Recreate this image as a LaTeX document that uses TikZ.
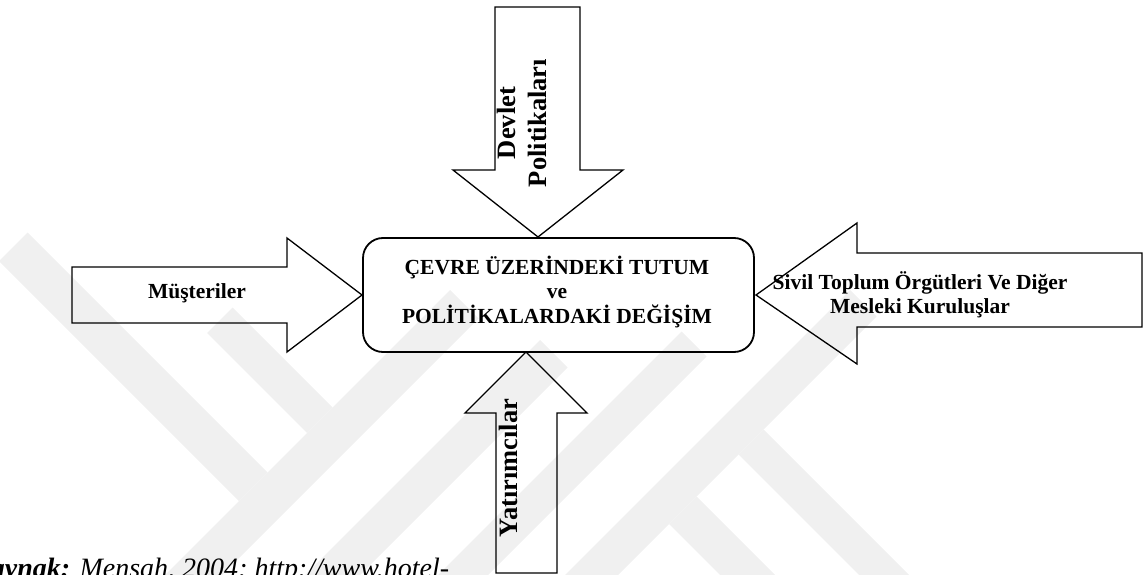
\documentclass[tikz,border=0pt]{standalone}
\usepackage{fontspec}
\setmainfont{Liberation Serif}

\tikzset{
  blockarrow/.style={draw=black, line width=1.3pt, line join=miter},
  centrebox/.style={draw=black, line width=1.8pt, rounded corners=20pt},
  label/.style={inner sep=0pt, align=center, text=black,
    font=\fontsize{21.5}{24.5}\selectfont\bfseries},
  sidelabel/.style={inner sep=0pt, align=center, text=black, rotate=90,
    font=\fontsize{26.5}{31}\selectfont\bfseries},
  band/.style={fill=wmgray, draw=none},
}
\definecolor{wmgray}{HTML}{F0F0F0}

\begin{document}
\begin{tikzpicture}[x=1pt, y=-1pt]
\useasboundingbox (0,0) rectangle (1144,575);

% faint background logo made of diagonal bands
\begin{scope}
  \clip (0,0) rectangle (1144,575);
  \fill[band] (450,290) -- (478.5,318.5) -- (98.5,698.5) -- (70,670) -- cycle;
  \fill[band] (27.5,232.5) -- (-1,261) -- (239,501) -- (267.5,472.5) -- cycle;
  \fill[band] (232.5,307.5) -- (207,333) -- (307,433) -- (332.5,407.5) -- cycle;
  \fill[band] (540,340) -- (567.5,367.5) -- (167.5,767.5) -- (140,740) -- cycle;
  \fill[band] (681.5,331.5) -- (706.5,356.5) -- (306.5,756.5) -- (281.5,731.5) -- cycle;
  \fill[band] (850,290) -- (876.5,316.5) -- (446.5,746.5) -- (420,720) -- cycle;
  \fill[band] (763.5,429.5) -- (738.5,454.5) -- (892,608) -- (917,583) -- cycle;
  \fill[band] (696.5,496.5) -- (669,524) -- (822.5,677.5) -- (850,650) -- cycle;

  % source line, cut by the frame
  \node[anchor=base west, inner sep=0pt,
        font=\fontsize{28}{32}\selectfont\itshape] (src) at (-28,577)
    {\textbf{Kaynak:} Mensah, 2004; http://www.hotel-};
\end{scope}

% central box
\node[centrebox, minimum width=391pt, minimum height=114pt] (core) at (558.5,295) {};
\node[label] (coretext) at (557,292)
  {ÇEVRE ÜZERİNDEKİ TUTUM\\ve\\POLİTİKALARDAKİ DEĞİŞİM};

% arrow from the top
\coordinate (tTip) at (538,237);
\draw[blockarrow] (495,7) -- (580,7) -- (580,170) -- (623,170) -- (tTip)
  -- (453,170) -- (495,170) -- cycle;
\node[sidelabel] (devlet) at (522,123) {Devlet\\Politikaları};

% arrow from the left
\coordinate (lTip) at (362,295);
\draw[blockarrow] (72,267) -- (287,267) -- (287,238) -- (lTip) -- (287,352)
  -- (287,323) -- (72,323) -- cycle;
\node[label] (musteri) at (197,293) {Müşteriler};

% arrow from the right
\coordinate (rTip) at (756,295);
\draw[blockarrow] (1142,253) -- (857,253) -- (857,223) -- (rTip) -- (857,364)
  -- (857,327) -- (1142,327) -- cycle;
\node[label] (sivil) at (920,295)
  {Sivil Toplum Örgütleri Ve Diğer\\Mesleki Kuruluşlar};

% arrow from the bottom
\coordinate (bTip) at (526,352);
\draw[blockarrow] (496,573) -- (496,413) -- (465,413) -- (bTip) -- (587,413)
  -- (557,413) -- (557,573) -- cycle;
\node[sidelabel] (yatirim) at (508,468) {Yatırımcılar};
\end{tikzpicture}
\end{document}
